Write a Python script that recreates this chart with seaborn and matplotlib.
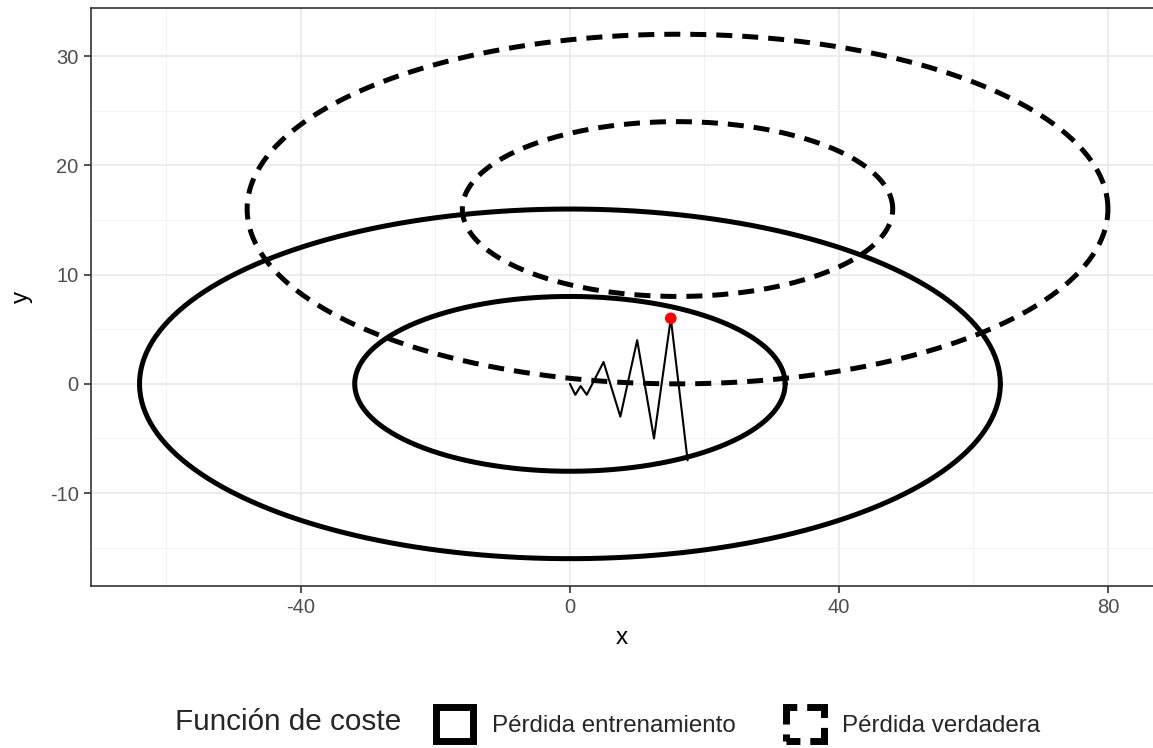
"""
Contornos de la pérdida de entrenamiento vs. pérdida verdadera con trayectoria del descenso.
"""

import numpy as np
import pandas as pd
import seaborn as sns
import matplotlib.pyplot as plt
from matplotlib.patches import Patch

# elipses: centro, semiejes y tipo de función de coste
ell_names = ["train_outer", "train_inner", "true_outer", "true_inner"]
ell_cx = [0, 0, 16, 16]
ell_cy = [0, 0, 16, 16]
ell_ax = [64, 32, 64, 32]
ell_ay = [16, 8, 16, 8]
ell_kind = ["Pérdida entrenamiento", "Pérdida entrenamiento",
            "Pérdida verdadera", "Pérdida verdadera"]

# trayectoria del optimizador
path_x = [0, 0.8, 1.6, 2.5, 5, 7.5, 10, 12.5, 15, 17.5]
path_y = [0, -1, -0.2, -1, 2, -3, 4, -5, 6, -7]

# punto destacado
best_x = [15]
best_y = [6]

sns.set_theme(style="whitegrid")
plt.rcParams["font.family"] = ["Liberation Sans", "DejaVu Sans"]
plt.rcParams["axes.unicode_minus"] = False

t = np.linspace(0, 2 * np.pi, 400)
rows = []
for name, cx, cy, ax_, ay, kind in zip(ell_names, ell_cx, ell_cy, ell_ax, ell_ay, ell_kind):
    rows.append(pd.DataFrame({"x": cx + ax_ * np.cos(t), "y": cy + ay * np.sin(t),
                              "curve": name, "kind": kind}))
df = pd.concat(rows, ignore_index=True)

fig = plt.figure(figsize=(11.53, 7.48), dpi=100)
ax = fig.add_axes([0.079, 0.2166, 0.921, 0.7727])

sns.lineplot(data=df, x="x", y="y", units="curve", style="kind", estimator=None,
             sort=False, color="black", linewidth=3.6, ax=ax, legend=False,
             dashes={"Pérdida entrenamiento": "", "Pérdida verdadera": (3.2, 2.0)})
sns.lineplot(x=path_x, y=path_y, sort=False, estimator=None, color="black",
             linewidth=1.5, ax=ax)
sns.scatterplot(x=best_x, y=best_y, color="red", s=70, edgecolor="none", zorder=5, ax=ax)

ax.set_xlim(-71.2, 86.7)
ax.set_ylim(-18.5, 34.4)
ax.set_xticks([-40, 0, 40, 80])
ax.set_yticks([-10, 0, 10, 20, 30])
ax.set_xticks([-60, -20, 20, 60], minor=True)
ax.set_yticks([-15, -5, 5, 15, 25], minor=True)
ax.grid(which="major", color="#EBEBEB", linewidth=1.3)
ax.grid(which="minor", color="#F2F2F2", linewidth=0.7)
ax.set_axisbelow(True)
for s in ax.spines.values():
    s.set_color("#333333")
    s.set_linewidth(1.2)
ax.spines["right"].set_visible(False)
ax.tick_params(axis="both", which="major", length=5, width=1.2, color="#333333",
               labelcolor="#4D4D4D", labelsize=14.5, pad=4, bottom=True, left=True)
ax.tick_params(which="minor", length=0)
ax.set_xlabel("x", fontsize=17.5, color="black", labelpad=7)
ax.set_ylabel("y", fontsize=17.5, color="black", labelpad=12)

handles = [Patch(facecolor="white", edgecolor="black", linewidth=5, linestyle="-"),
           Patch(facecolor="white", edgecolor="black", linewidth=5,
                 linestyle=(2.0, (4.0, 1.43)))]
fig.legend(handles, ["Pérdida entrenamiento", "Pérdida verdadera"],
           loc="center left", bbox_to_anchor=(436 / 1153, 1 - 724 / 748),
           ncol=2, frameon=False, fontsize=17.4, borderpad=0, borderaxespad=0,
           handlelength=1.55, handleheight=1.85, handletextpad=0.75, columnspacing=2.1)
fig.text(175 / 1153, 1 - 722 / 748, "Función de coste", fontsize=21.4, va="center", ha="left")

fig.savefig("out.png", dpi=100)
